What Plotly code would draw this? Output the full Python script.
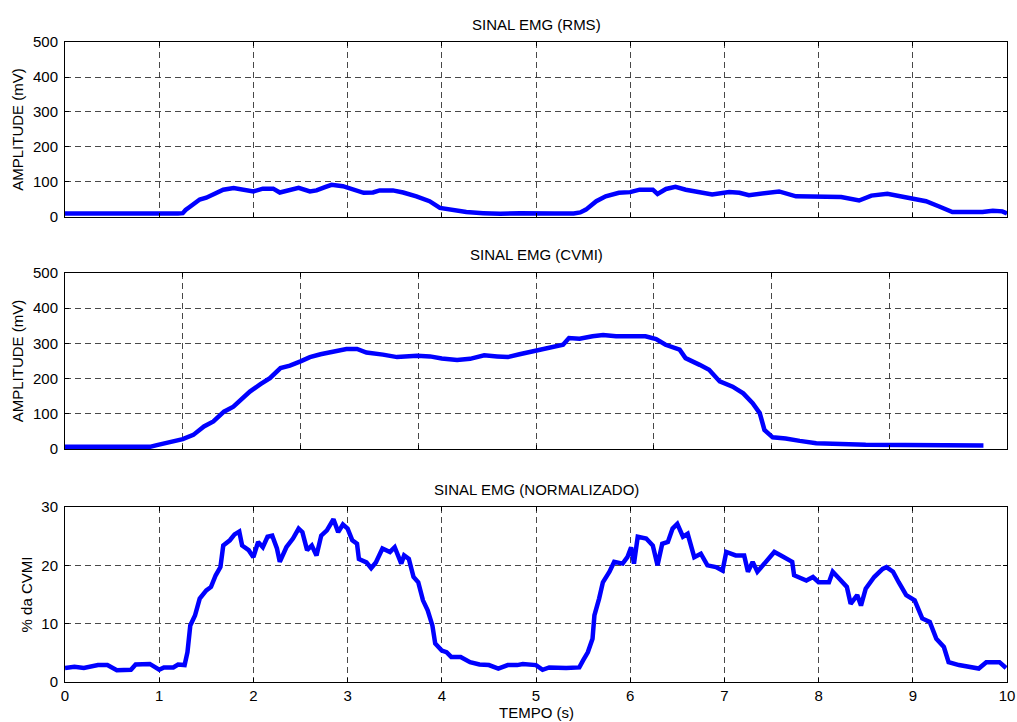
import plotly.graph_objects as go

# ---------------- data ----------------
rms_t = [0, 0.3, 0.5, 0.55, 0.62, 0.7, 1.0, 1.2, 1.25, 1.28,
         1.33, 1.43, 1.5, 1.57, 1.68, 1.79, 1.89, 2.0, 2.1, 2.21,
         2.28, 2.39, 2.48, 2.6, 2.67, 2.76, 2.83, 2.95, 3.06, 3.17,
         3.27, 3.34, 3.48, 3.59, 3.73, 3.87, 3.98, 4.12, 4.26, 4.44,
         4.62, 4.83, 5.0, 5.2, 5.4, 5.47, 5.53, 5.64, 5.74, 5.88,
         6.0, 6.1, 6.24, 6.29, 6.38, 6.48, 6.59, 6.73, 6.87, 7.05,
         7.16, 7.26, 7.44, 7.58, 7.76, 7.97, 8.24, 8.43, 8.56, 8.73,
         8.87, 9.0, 9.14, 9.28, 9.42, 9.74, 9.85, 9.95, 10.0]
rms_v = [10, 10, 10, 7, 8, 10, 10, 10, 11, 20,
         30, 50, 55, 64, 78, 83, 78, 73, 81, 81,
         70, 78, 83, 73, 76, 85, 92, 88, 78, 69,
         70, 76, 76, 70, 59, 45, 26, 19, 14, 11,
         9, 11, 12, 10, 10, 13, 21, 45, 59, 69,
         71, 78, 78, 66, 80, 86, 78, 70, 64, 71,
         69, 62, 69, 73, 59, 59, 57, 47, 61, 66,
         59, 50, 45, 30, 14, 14, 18, 16, 10]

cvmi_t = [0, 0.72, 0.78, 0.89, 1.0, 1.09, 1.18, 1.26, 1.35, 1.43,
          1.49, 1.57, 1.66, 1.74, 1.83, 1.91, 2.0, 2.08, 2.17, 2.28,
          2.39, 2.48, 2.56, 2.7, 2.82, 2.99, 3.1, 3.2, 3.33, 3.44,
          3.56, 3.67, 3.76, 3.86, 3.97, 4.03, 4.14, 4.23, 4.28, 4.37,
          4.48, 4.57, 4.68, 4.76, 4.85, 4.93, 5.02, 5.1, 5.22, 5.27,
          5.39, 5.47, 5.56, 5.67, 5.76, 5.84, 5.9, 5.94, 6.01, 6.12,
          6.24, 6.38, 6.8, 7.8]
cvmi_v = [6, 6, 11, 21, 28, 40, 64, 78, 106, 120,
          139, 163, 184, 201, 230, 237, 249, 261, 269, 277,
          284, 284, 274, 268, 261, 265, 263, 257, 253, 256,
          266, 263, 261, 269, 277, 282, 289, 296, 315, 313,
          320, 324, 320, 320, 320, 320, 312, 296, 282, 258,
          239, 225, 192, 177, 158, 130, 102, 54, 33, 30,
          23, 16, 12, 10]

norm_t = [0, 0.1, 0.2, 0.35, 0.45, 0.55, 0.7, 0.75, 0.9, 0.95,
          1.0, 1.05, 1.15, 1.2, 1.27, 1.3, 1.33, 1.38, 1.43, 1.5,
          1.55, 1.6, 1.65, 1.68, 1.75, 1.8, 1.85, 1.88, 1.95, 2.0,
          2.05, 2.1, 2.15, 2.2, 2.25, 2.28, 2.35, 2.42, 2.48, 2.52,
          2.57, 2.62, 2.67, 2.72, 2.78, 2.85, 2.9, 2.95, 3.0, 3.05,
          3.1, 3.12, 3.2, 3.25, 3.3, 3.37, 3.45, 3.5, 3.57, 3.6,
          3.65, 3.7, 3.75, 3.8, 3.85, 3.9, 3.93, 4.0, 4.05, 4.1,
          4.2, 4.3, 4.4, 4.5, 4.6, 4.7, 4.8, 4.86, 5.0, 5.07,
          5.14, 5.32, 5.46, 5.5, 5.55, 5.6, 5.62, 5.67, 5.71, 5.78,
          5.83, 5.92, 5.97, 6.01, 6.04, 6.08, 6.17, 6.24, 6.29, 6.34,
          6.4, 6.45, 6.5, 6.56, 6.61, 6.68, 6.75, 6.82, 6.91, 6.98,
          7.02, 7.12, 7.21, 7.25, 7.3, 7.35, 7.44, 7.53, 7.6, 7.67,
          7.72, 7.74, 7.87, 7.94, 8.0, 8.11, 8.15, 8.22, 8.3, 8.34,
          8.41, 8.45, 8.5, 8.59, 8.68, 8.72, 8.79, 8.85, 8.93, 9.02,
          9.1, 9.18, 9.25, 9.33, 9.38, 9.49, 9.6, 9.7, 9.78, 9.92,
          9.99]
norm_v = [2.4, 2.6, 2.4, 2.9, 2.9, 2.0, 2.1, 3.0, 3.1, 2.6,
          2.1, 2.5, 2.5, 3.0, 2.9, 5.1, 9.7, 11.4, 14.3, 15.7,
          16.3, 18.3, 19.7, 23.4, 24.3, 25.3, 25.8, 23.4, 22.6, 21.4,
          24.0, 23.1, 24.9, 25.1, 22.9, 20.6, 23.1, 24.6, 26.3, 25.7,
          22.6, 23.4, 21.7, 25.1, 26.0, 27.9, 25.7, 27.0, 26.3, 24.3,
          23.7, 21.1, 20.5, 19.5, 20.5, 22.9, 22.3, 23.1, 20.3, 21.7,
          21.1, 18.0, 17.1, 14.0, 12.3, 9.7, 6.6, 5.4, 5.1, 4.3,
          4.3, 3.4, 3.0, 2.9, 2.3, 2.9, 2.9, 3.1, 2.9, 2.1,
          2.5, 2.4, 2.5, 3.7, 5.1, 7.4, 11.4, 14.3, 17.1, 18.9,
          20.6, 20.3, 21.4, 23.1, 20.3, 24.9, 24.6, 23.4, 20.0, 23.7,
          24.0, 26.3, 27.1, 24.9, 25.4, 21.4, 22.0, 20.0, 19.7, 19.1,
          22.3, 21.7, 21.7, 18.9, 20.6, 18.9, 20.6, 22.3, 21.7, 21.1,
          20.6, 18.3, 17.4, 18.0, 17.1, 17.1, 18.9, 17.7, 16.3, 13.4,
          14.9, 13.1, 16.0, 18.0, 19.4, 19.7, 18.9, 17.1, 14.9, 14.0,
          10.9, 10.3, 7.4, 6.0, 3.4, 2.9, 2.6, 2.3, 3.4, 3.4,
          2.4]

titles = ["SINAL EMG (RMS)", "SINAL EMG (CVMI)", "SINAL EMG (NORMALIZADO)"]
ylabels = ["AMPLITUDE (mV)", "AMPLITUDE (mV)", "% da CVMI"]
xlabel = "TEMPO (s)"

# ---------------- figure ----------------
FONT = "Liberation Sans, Arial, sans-serif"
FS = 15
BLUE = "#0000ff"
LW = 4.5

fig = go.Figure()
fig.add_trace(go.Scatter(x=rms_t, y=rms_v, mode="lines", xaxis="x", yaxis="y",
                         line=dict(color=BLUE, width=LW), showlegend=False))
fig.add_trace(go.Scatter(x=cvmi_t, y=cvmi_v, mode="lines", xaxis="x2", yaxis="y2",
                         line=dict(color=BLUE, width=LW), showlegend=False))
fig.add_trace(go.Scatter(x=norm_t, y=norm_v, mode="lines", xaxis="x3", yaxis="y3",
                         line=dict(color=BLUE, width=LW), showlegend=False))

domains = [[0.7266, 1.0], [0.3641, 0.6391], [0.0, 0.2734]]

common = dict(showline=True, linecolor="black", linewidth=1, mirror="ticks",
              ticks="inside", ticklen=4, tickwidth=1, tickcolor="black",
              showgrid=True, gridcolor="rgba(40,40,40,0.85)", gridwidth=1,
              griddash="6px,4px", zeroline=False, automargin=False,
              tickfont=dict(family=FONT, size=FS, color="black"))

layout = dict(width=1017, height=722,
              margin=dict(l=65, r=10, t=42, b=40),
              paper_bgcolor="white", plot_bgcolor="white",
              font=dict(family=FONT, size=FS, color="black"))

xranges = [[0, 10], [0, 8], [0, 10]]
yranges = [[0, 500], [0, 500], [0, 30]]
ydticks = [100, 100, 10]
for i in range(3):
    sx = "" if i == 0 else str(i + 1)
    layout["xaxis" + sx] = dict(common, domain=[0, 1], anchor="y" + sx,
                                range=xranges[i], dtick=1, tick0=0,
                                showticklabels=(i == 2))
    layout["yaxis" + sx] = dict(common, domain=domains[i], anchor="x" + sx,
                                range=yranges[i], dtick=ydticks[i], tick0=0,
                                ticklabelstandoff=3,
                                title=dict(text=ylabels[i], standoff=5,
                                           font=dict(family=FONT, size=FS)))

annotations = []
for i in range(3):
    annotations.append(dict(text=titles[i], x=0.5, xref="paper", xanchor="center",
                            y=domains[i][1], yref="paper", yanchor="middle",
                            yshift=18, showarrow=False,
                            font=dict(family=FONT, size=FS, color="black")))
annotations.append(dict(text=xlabel, x=0.5, xref="paper", xanchor="center",
                        y=0, yref="paper", yanchor="middle", yshift=-30,
                        showarrow=False, font=dict(family=FONT, size=FS, color="black")))
layout["annotations"] = annotations

fig.update_layout(layout)
fig.write_html("out.html", config={"displayModeBar": False},
               post_script="document.body.style.margin='0';")
